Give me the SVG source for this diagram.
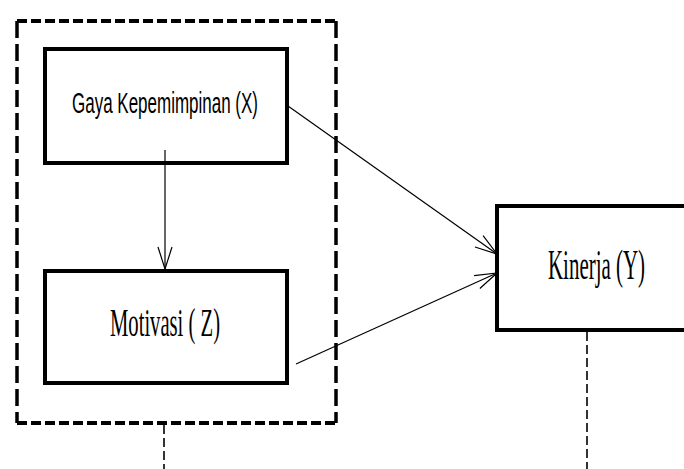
<svg xmlns="http://www.w3.org/2000/svg" width="684" height="469" viewBox="0 0 684 469">
<style>
.box{fill:#fff;stroke:#000;stroke-width:4}
.conn{stroke:#000;stroke-width:1.2;fill:none}
.dashH{stroke:#000;stroke-width:4;fill:none;stroke-dasharray:10 4}
.dashV{stroke:#000;stroke-width:3.5;fill:none;stroke-dasharray:17 6}
.thin{stroke:#000;stroke-width:1.6;fill:none;stroke-dasharray:9 4}
.sans{font-family:"Liberation Sans",Arial,sans-serif;fill:#000}
.serif{font-family:"Liberation Serif","Times New Roman",serif;fill:#000}
</style>
<defs>
<marker id="open" viewBox="0 0 24 16" refX="23" refY="8" markerWidth="24" markerHeight="16" markerUnits="userSpaceOnUse" orient="auto">
<path d="M1,1 L23,8 L1,15" fill="none" stroke="#000" stroke-width="1.2"/>
</marker>
</defs>
<rect width="684" height="469" fill="#fff"/>
<g id="group">
<path class="dashH" d="M17,21 H336"/>
<path class="dashH" d="M17,423 H336"/>
<path class="dashV" d="M17,21 V423"/>
<path class="dashV" d="M336,21 V423"/>
</g>
<g id="nodeX">
<rect class="box" x="45" y="49" width="242" height="114"/>
<text class="sans" x="72" y="113" font-size="30" textLength="186" lengthAdjust="spacingAndGlyphs">Gaya Kepemimpinan (X)</text>
</g>
<g id="nodeZ">
<rect class="box" x="45" y="271" width="242" height="112"/>
<text class="serif" x="110" y="336" font-size="40" textLength="110" lengthAdjust="spacingAndGlyphs">Motivasi ( Z)</text>
</g>
<g id="nodeY">
<rect class="box" x="497" y="206" width="200" height="124"/>
<text class="serif" x="548" y="279" font-size="42" textLength="97" lengthAdjust="spacingAndGlyphs">Kinerja (Y)</text>
</g>
<g id="connectors">
<path class="conn" d="M165,150 V269" marker-end="url(#open)"/>
<path class="conn" d="M288,106 L497,254" marker-end="url(#open)"/>
<path class="conn" d="M296,364 L497,273" marker-end="url(#open)"/>
<path class="thin" d="M164,425 V469" stroke-width="2"/>
<path class="thin" d="M587,332 V469"/>
</g>
</svg>
